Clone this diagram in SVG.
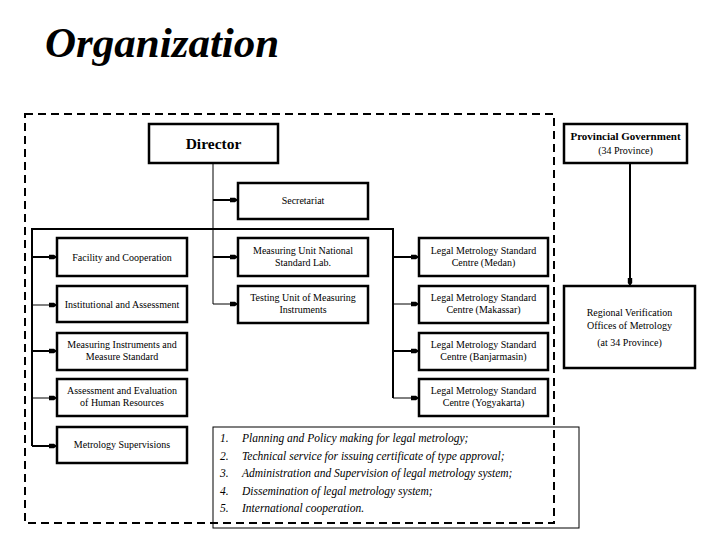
<svg xmlns="http://www.w3.org/2000/svg" width="720" height="540" viewBox="0 0 720 540">
<style>
.box{fill:#fff;stroke:#000;stroke-width:2.5}
.t{font-family:"Liberation Serif","Times New Roman",serif;font-size:10px;text-anchor:middle;fill:#000}
.thick{stroke:#000;stroke-width:2;fill:none}
.thin{stroke:#000;stroke-width:1;fill:none}
.it{font-family:"Liberation Serif","Times New Roman",serif;font-style:italic;font-size:11.5px;fill:#000}
</style>
<defs>
<marker id="m" viewBox="0 0 8 6" refX="8" refY="3" markerWidth="8" markerHeight="6" markerUnits="userSpaceOnUse" orient="auto">
<path d="M0,0.8 L5,0.8 L8,3 L5,5.2 L0,5.2 Z" fill="#000"/>
</marker>
</defs>
<rect width="720" height="540" fill="#fff"/>
<text x="45" y="57" style="font-family:'Liberation Serif','Times New Roman',serif;font-size:43px;font-weight:bold;font-style:italic">Organization</text>

<g id="connectors">
<line class="thin" x1="213" y1="163" x2="213" y2="304"/>
<line class="thick" x1="213" y1="200" x2="238" y2="200" marker-end="url(#m)"/>
<polyline class="thick" points="393,398 393,229 32,229 32,446"/>
<line class="thick" x1="32" y1="257" x2="57" y2="257" marker-end="url(#m)"/>
<line class="thin" x1="32" y1="305" x2="57" y2="305" marker-end="url(#m)"/>
<line class="thick" x1="32" y1="351" x2="57" y2="351" marker-end="url(#m)"/>
<line class="thin" x1="32" y1="398" x2="57" y2="398" marker-end="url(#m)"/>
<line class="thick" x1="32" y1="446" x2="57" y2="446" marker-end="url(#m)"/>
<line class="thick" x1="213" y1="257" x2="238" y2="257" marker-end="url(#m)"/>
<line class="thin" x1="213" y1="304" x2="238" y2="304" marker-end="url(#m)"/>
<line class="thick" x1="393" y1="257" x2="419" y2="257" marker-end="url(#m)"/>
<line class="thin" x1="393" y1="304" x2="419" y2="304" marker-end="url(#m)"/>
<line class="thick" x1="393" y1="351" x2="419" y2="351" marker-end="url(#m)"/>
<line class="thin" x1="393" y1="398" x2="419" y2="398" marker-end="url(#m)"/>
<line class="thick" x1="630" y1="163" x2="630" y2="286" marker-end="url(#m)"/>
</g>

<g id="director"><rect class="box" x="149" y="124" width="129" height="39"/><text class="t" x="213.5" y="149" style="font-size:15.5px;font-weight:bold">Director</text></g>
<g id="provincial"><rect class="box" x="564" y="124" width="123" height="39"/><text class="t" x="625.5" y="140" style="font-size:11px;font-weight:bold">Provincial Government</text><text class="t" x="625.5" y="154">(34 Province)</text></g>
<g id="secretariat"><rect class="box" x="238" y="183" width="130" height="36"/><text class="t" x="303" y="204">Secretariat</text></g>

<g id="facility"><rect class="box" x="57" y="238" width="130" height="38"/><text class="t" x="122" y="261">Facility and Cooperation</text></g>
<g id="institutional"><rect class="box" x="57" y="286" width="130" height="36"/><text class="t" x="122" y="308">Institutional and Assessment</text></g>
<g id="measuring-instruments"><rect class="box" x="57" y="333" width="130" height="37"/><text class="t" x="122" y="348">Measuring Instruments and</text><text class="t" x="122" y="360">Measure Standard</text></g>
<g id="assessment"><rect class="box" x="57" y="379" width="130" height="37"/><text class="t" x="122" y="394">Assessment and Evaluation</text><text class="t" x="122" y="406">of Human Resources</text></g>
<g id="supervisions"><rect class="box" x="57" y="427" width="130" height="36"/><text class="t" x="122" y="448">Metrology Supervisions</text></g>

<g id="measuring-unit"><rect class="box" x="238" y="238" width="130" height="38"/><text class="t" x="303" y="254">Measuring Unit National</text><text class="t" x="303" y="266">Standard Lab.</text></g>
<g id="testing-unit"><rect class="box" x="238" y="286" width="130" height="37"/><text class="t" x="303" y="301">Testing Unit of Measuring</text><text class="t" x="303" y="313">Instruments</text></g>

<g id="medan"><rect class="box" x="419" y="238" width="129" height="38"/><text class="t" x="483.5" y="254">Legal Metrology Standard</text><text class="t" x="483.5" y="266">Centre (Medan)</text></g>
<g id="makassar"><rect class="box" x="419" y="286" width="129" height="37"/><text class="t" x="483.5" y="301">Legal Metrology Standard</text><text class="t" x="483.5" y="313">Centre (Makassar)</text></g>
<g id="banjarmasin"><rect class="box" x="419" y="333" width="129" height="37"/><text class="t" x="483.5" y="348">Legal Metrology Standard</text><text class="t" x="483.5" y="360">Centre (Banjarmasin)</text></g>
<g id="yogyakarta"><rect class="box" x="419" y="379" width="129" height="37"/><text class="t" x="483.5" y="394">Legal Metrology Standard</text><text class="t" x="483.5" y="406">Centre (Yogyakarta)</text></g>

<g id="regional"><rect class="box" x="564" y="286" width="131" height="82"/><text class="t" x="629.5" y="316">Regional Verification</text><text class="t" x="629.5" y="329">Offices of Metrology</text><text class="t" x="629.5" y="346">(at 34 Province)</text></g>

<g id="functions"><rect x="213" y="427" width="366" height="101" fill="none" stroke="#000" stroke-width="1"/>
<text class="it" x="220" y="442">1.</text><text class="it" x="242" y="442">Planning and Policy making for legal metrology;</text>
<text class="it" x="220" y="459.5">2.</text><text class="it" x="242" y="459.5">Technical service for issuing certificate of type approval;</text>
<text class="it" x="220" y="477">3.</text><text class="it" x="242" y="477">Administration and Supervision of legal metrology system;</text>
<text class="it" x="220" y="494.5">4.</text><text class="it" x="242" y="494.5">Dissemination of legal metrology system;</text>
<text class="it" x="220" y="512">5.</text><text class="it" x="242" y="512">International cooperation.</text>
</g>

<rect id="boundary" x="25" y="114" width="529" height="409" fill="none" stroke="#000" stroke-width="2" stroke-dasharray="8 5"/>
</svg>
